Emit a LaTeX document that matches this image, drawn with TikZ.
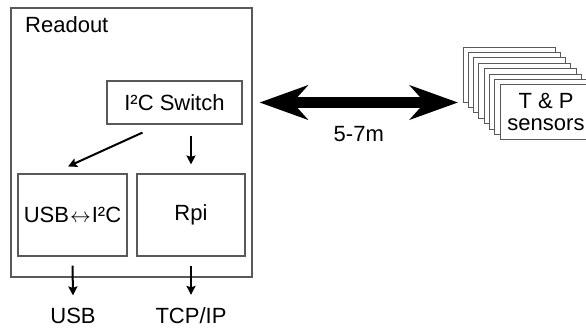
\documentclass[tikz,border=0pt]{standalone}
\usepackage{fontspec}
\setmainfont{Liberation Sans}
\usetikzlibrary{arrows.meta}

\begin{document}
\begin{tikzpicture}[
  x=1pt, y=1pt,
  font=\fontsize{22pt}{25pt}\selectfont,
  box/.style={draw=black!65, line width=1.1pt, fill=white,
              inner sep=0pt, align=center},
  arr/.style={-{Stealth[length=9pt,width=9pt,inset=1.5pt]},
              line width=2pt, black},
  big/.style={{Stealth[length=48pt,width=34pt,inset=15pt]}-{Stealth[length=48pt,width=34pt,inset=15pt]},
              line width=11pt, black},
  lbl/.style={inner sep=0pt},
]
\useasboundingbox (0,0) rectangle (586,-327);
\clip (0,0) rectangle (586,-327);

% Readout enclosure and its inner blocks
\node[box, minimum width=241pt, minimum height=269pt] (ro) at (131.5,-142.5) {};
\node[lbl, anchor=base west] (rotxt) at (25,-32) {Readout};
\node[box, minimum width=135pt, minimum height=43pt] (sw) at (174.5,-102.5) {I²C Switch};
\node[box, minimum width=109pt, minimum height=82pt] (usb) at (72.5,-215) {USB\kern1pt$\leftrightarrow$\kern1ptI²C};
\node[box, minimum width=108pt, minimum height=82pt] (rpi) at (191,-215) {Rpi};

% outputs below the enclosure
\node[lbl, anchor=base] (lusb) at (73,-323) {USB};
\node[lbl, anchor=base] (ltcp) at (191,-323) {TCP/IP};

% inner arrows
\coordinate (swr) at (sw.south -| rpi.north);
\draw[arr] ([shift={(-32pt,-8pt)}]sw.south) -- ([shift={(-4.5pt,7pt)}]usb.north);
\draw[arr] ([yshift=-11pt]swr) -- ([yshift=9pt]rpi.north);
\draw[arr] ([yshift=-9pt]usb.south) -- ([yshift=12pt]lusb.north);
\draw[arr] ([yshift=-9pt]rpi.south) -- ([yshift=12pt]ltcp.north);

% stack of T & P sensor cards
\foreach \i in {0,...,6}
  \node[box, minimum width=92pt, minimum height=55pt, line width=1pt]
    (s\i) at (509+5.3*\i,-74.5-5.4*\i) {};
\node[box, minimum width=92pt, minimum height=55pt, line width=1pt]
  (tp) at (546,-112.3) {T \& P\\[-3pt]sensors};

% cable between readout and sensors
\coordinate (lnkL) at ([xshift=17pt]sw.east);
\coordinate (lnkR) at (458,-102.5);
\draw[big] (lnkL) -- node[lbl, below=18pt] {5-7m} (lnkR);
\end{tikzpicture}
\end{document}
